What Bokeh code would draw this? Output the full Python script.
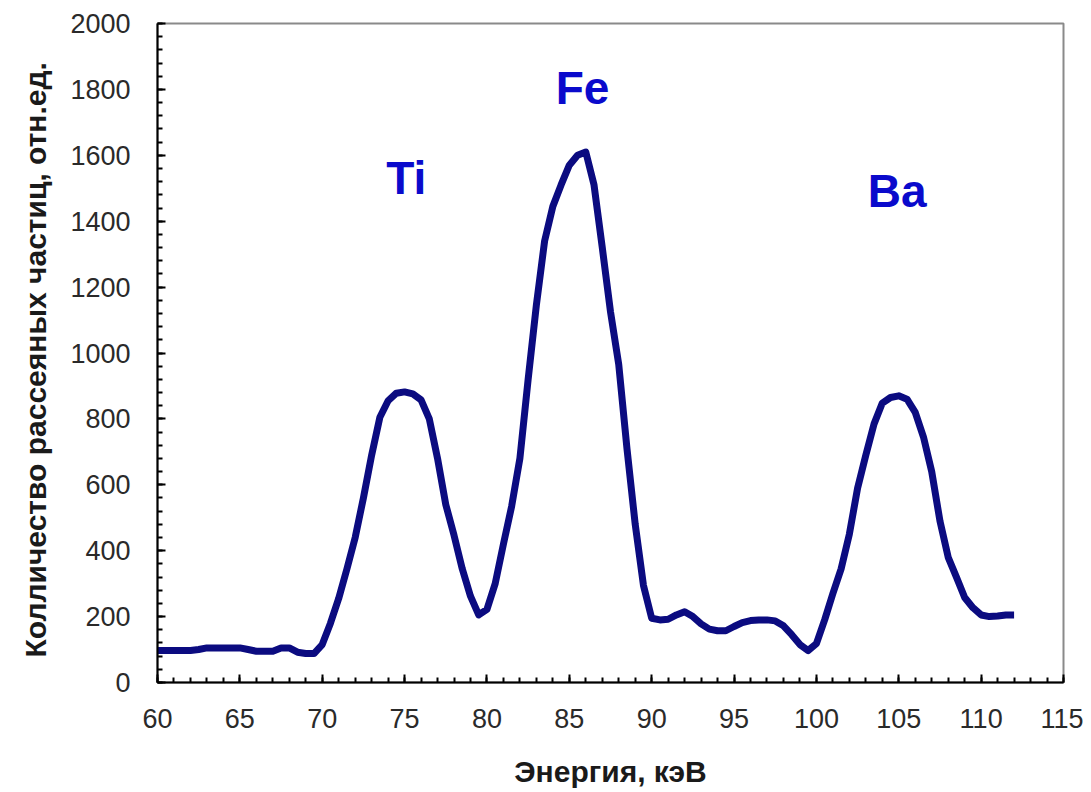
import math
from bokeh.plotting import figure
from bokeh.models import Title, FixedTicker
from bokeh.core.properties import value
from bokeh.embed import file_html
from bokeh.resources import INLINE

# ---- data ----
energy = [60, 61, 62, 62.5, 63, 64, 65, 65.5, 66, 67, 67.5, 68, 68.5, 69, 69.5,
          70, 70.5, 71, 71.5, 72, 72.5, 73, 73.5, 74, 74.5, 75, 75.5, 76, 76.5,
          77, 77.5, 78, 78.5, 79, 79.5, 80, 80.5, 81, 81.5, 82, 82.5, 83, 83.5,
          84, 84.5, 85, 85.5, 86, 86.5, 87, 87.5, 88, 88.5, 89, 89.5, 90, 90.5,
          91, 91.5, 92, 92.5, 93, 93.5, 94, 94.5, 95, 95.5, 96, 96.5, 97, 97.5,
          98, 98.5, 99, 99.5, 100, 100.5, 101, 101.5, 102, 102.5, 103, 103.5,
          104, 104.5, 105, 105.5, 106, 106.5, 107, 107.5, 108, 108.5, 109, 109.5,
          110, 110.5, 111, 111.5, 112]
counts = [97, 97, 97, 100, 105, 105, 105, 100, 95, 95, 105, 105, 92, 88, 88,
          115, 180, 255, 345, 440, 560, 690, 805, 855, 878, 882, 876, 858, 800,
          680, 540, 447, 345, 262, 205, 222, 300, 420, 535, 680, 920, 1145, 1340,
          1445, 1510, 1570, 1600, 1610, 1510, 1320, 1125, 965, 710, 480, 295, 195, 190,
          192, 205, 215, 200, 178, 162, 157, 157, 170, 182, 188, 190, 190, 187,
          172, 145, 115, 97, 118, 190, 270, 345, 450, 590, 690, 785,
          848, 865, 870, 860, 820, 745, 640, 490, 380, 320, 258, 227,
          205, 200, 202, 205, 205]

peak_names = ["Ti", "Fe", "Ba"]
peak_x = [75.1, 85.8, 104.9]
peak_y = [1531, 1803, 1492]

x_ticks = [60, 65, 70, 75, 80, 85, 90, 95, 100, 105, 110, 115]
y_ticks = [0, 200, 400, 600, 800, 1000, 1200, 1400, 1600, 1800, 2000]
x_minor = list(range(60, 116))
y_minor = list(range(0, 2001, 40))

x_title = "Энергия, кэВ"
y_title = "Колличество рассеяных частиц, отн.ед."

FONT = "Liberation Sans"

p = figure(width=1083, height=790, output_backend="svg", toolbar_location=None,
           x_range=(60, 115), y_range=(0, 2000),
           min_border_left=157, min_border_right=20, min_border_top=23,
           min_border_bottom=105)
p.background_fill_color = "white"
p.border_fill_color = "white"
p.outline_line_color = "#8a8a8a"
p.outline_line_width = 2
p.grid.visible = False

p.line(energy, counts, line_color="#0b0b80", line_width=7, line_join="round")

p.text(x=peak_x, y=peak_y, text=peak_names, text_align="center",
       text_baseline="alphabetic", text_font=value(FONT), text_font_size="46px",
       text_font_style="bold", text_color="#0a0acc")

for ax in (p.xaxis[0], p.yaxis[0]):
    ax.axis_line_color = "black"
    ax.axis_line_width = 2
    ax.major_tick_in = 8
    ax.major_tick_out = 0
    ax.minor_tick_in = 5
    ax.minor_tick_out = 0
    ax.major_tick_line_width = 2
    ax.minor_tick_line_width = 2
    ax.major_tick_line_color = "black"
    ax.minor_tick_line_color = "black"
    ax.major_label_text_font = FONT
    ax.major_label_text_font_size = "27px"
    ax.major_label_text_color = "#2a2a2a"
    ax.axis_label_text_font = FONT
    ax.axis_label_text_font_size = "30px"
    ax.axis_label_text_font_style = "bold"
    ax.axis_label_text_color = "#1a1a1a"

p.xaxis[0].ticker = FixedTicker(ticks=x_ticks, minor_ticks=x_minor)
p.yaxis[0].ticker = FixedTicker(ticks=y_ticks, minor_ticks=y_minor)

p.xaxis[0].axis_label = x_title
p.xaxis[0].major_label_standoff = 26
p.yaxis[0].major_label_standoff = 27
p.xaxis[0].axis_label_standoff = 24

# y-axis title placed in the left panel, aligned to match the original
p.add_layout(Title(text=y_title, align="left", offset=25, standoff=31,
                   text_font=FONT, text_font_size="30px",
                   text_font_style="bold", text_color="#1a1a1a"), "left")

open("out.html", "w").write(file_html(p, INLINE))
